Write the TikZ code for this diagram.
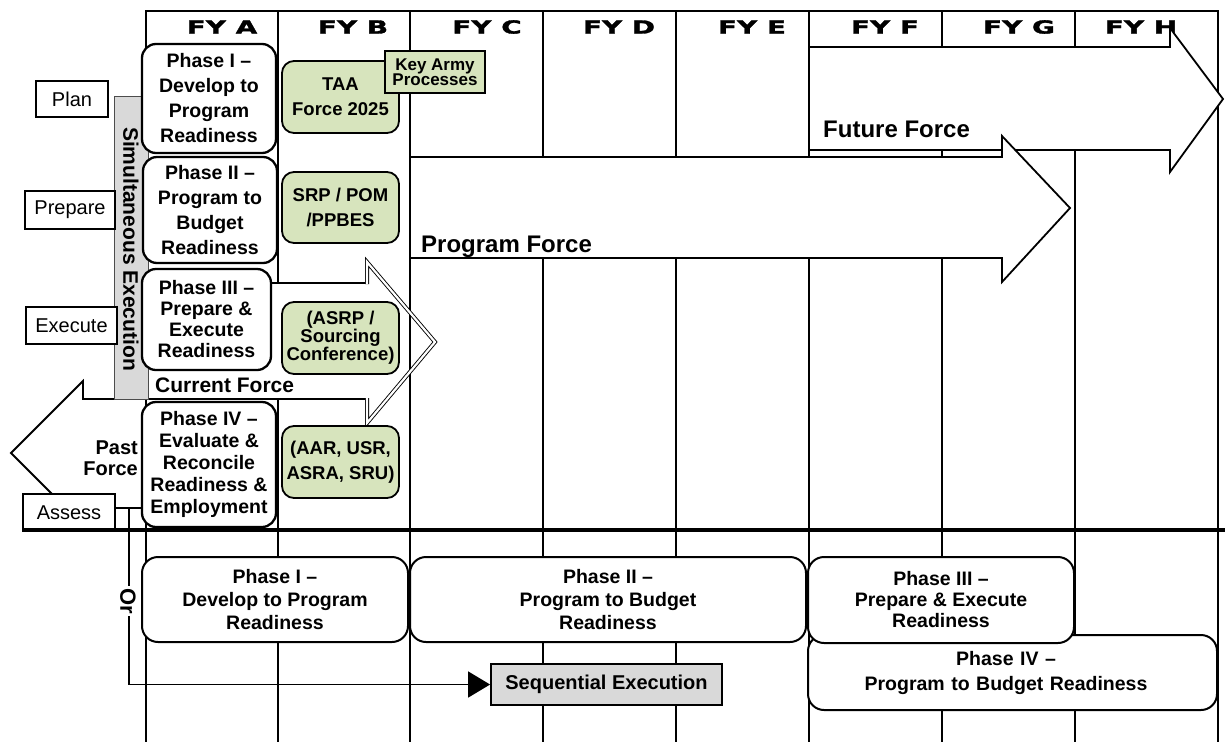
\documentclass[tikz,border=0pt]{standalone}
\usepackage{fontspec}
\setmainfont{Liberation Sans}
\newfontfamily\fyfont[FakeStretch=1.55,FakeBold=1.8]{DejaVu Sans Bold}
\usetikzlibrary{arrows.meta}
\definecolor{procgreen}{HTML}{D7E4BD}
\definecolor{bargray}{HTML}{D9D9D9}
\begin{document}
\begin{tikzpicture}[x=1pt,y=-1pt,
  gridline/.style={line width=1.6pt},
  fyhead/.style={font=\fyfont\fontsize{18}{18}\selectfont, inner sep=0},
  phasetop/.style={draw, line width=2.3pt, rounded corners=14pt, fill=white, align=center, inner sep=0},
  procbox/.style={draw, line width=1.8pt, rounded corners=12pt, fill=procgreen, align=center, inner sep=0, minimum width=117pt},
  stagebox/.style={draw, line width=1.8pt, fill=white, inner sep=0, font=\fontsize{20}{20}\selectfont},
  phasebot/.style={draw, line width=2pt, rounded corners=16pt, fill=white, align=center, inner sep=0},
  forcearrow/.style={draw, line width=1.8pt, fill=white, line join=miter},
  forcelabel/.style={font=\bfseries\fontsize{24}{24}\selectfont, inner sep=0, anchor=base west},
]
\useasboundingbox (0,0) rectangle (1225,742);
\fill[white] (0,0) rectangle (1225,742);

% grid
\foreach \x in {146,278,410,543,676,809,942,1075,1218}
  \draw[gridline] (\x,11) -- (\x,742);
\draw[gridline] (145,11) -- (1219,11);

% headers
\node[fyhead] (fya) at (222,27) {FY A};
\node[fyhead] (fyb) at (353,27) {FY B};
\node[fyhead] (fyc) at (487,27) {FY C};
\node[fyhead] (fyd) at (619,27) {FY D};
\node[fyhead] (fye) at (752,27) {FY E};
\node[fyhead] (fyf) at (885,27) {FY F};
\node[fyhead] (fyg) at (1019,27) {FY G};
\node[fyhead] (fyh) at (1141,27) {FY H};

% Future Force
\draw[forcearrow] (809,47) -- (1170,47) -- (1170,28) -- (1223,99) -- (1170,172) -- (1170,150) -- (809,150) -- cycle;
\node[forcelabel] (futlbl) at (823,137) {Future Force};

% Program Force
\draw[forcearrow] (410,157) -- (1002,157) -- (1002,136) -- (1070,208) -- (1002,282) -- (1002,258) -- (410,258) -- cycle;
\node[forcelabel] (proglbl) at (421,252) {Program Force};

% Current Force
\fill[white] (148,283) -- (367,283) -- (367,262) -- (435,342) -- (367,423) -- (367,399) -- (148,399) -- cycle;
\draw[gridline] (410,255) -- (410,430);
\draw[line width=1.8pt] (148,283) -- (367,283);
\draw[line width=1.8pt] (367,399) -- (148,399);
\draw[line width=0.9pt, double, double distance=2.2pt, line join=miter] (367,284) -- (367,262) -- (435,342) -- (367,423) -- (367,398);
\node[font=\bfseries\fontsize{21}{21}\selectfont, inner sep=0, anchor=base west] (curlbl) at (155,392) {Current Force};

% Past Force
\draw[forcearrow] (142,399) -- (83,399) -- (83,381) -- (11,453) -- (83,525) -- (83,508) -- (142,508);
\node[font=\bfseries\fontsize{20}{21}\selectfont, align=right, inner sep=0, anchor=east] (pastlbl) at (138,458) {Past\\Force};

% Simultaneous execution bar
\node[draw=black!70, line width=1pt, fill=bargray, minimum width=34pt, minimum height=303pt, inner sep=0] (simbar) at (131,247.5) {};
\node[rotate=-90, font=\bfseries\fontsize{21}{21}\selectfont, inner sep=0] (simtext) at (131,249) {Simultaneous Execution};

% top phase boxes
\node[phasetop, minimum width=134pt, minimum height=109pt, font=\bfseries\fontsize{19.5}{25}\selectfont] (p1t) at (209,98.5) {Phase I –\\Develop to\\Program\\Readiness};
\node[phasetop, minimum width=134pt, minimum height=106pt, font=\bfseries\fontsize{19.5}{25}\selectfont] (p2t) at (210,210) {Phase II –\\Program to\\Budget\\Readiness};
\node[phasetop, minimum width=129pt, minimum height=101pt, font=\bfseries\fontsize{19.5}{21}\selectfont] (p3t) at (206.5,319.5) {Phase III –\\Prepare \&\\Execute\\Readiness};
\node[phasetop, minimum width=134pt, minimum height=125pt, font=\bfseries\fontsize{19.5}{22}\selectfont] (p4t) at (209,464.5) {Phase IV –\\Evaluate \&\\Reconcile\\Readiness \&\\Employment};

% green process boxes
\node[procbox, minimum height=72pt, font=\bfseries\fontsize{18.5}{25}\selectfont] (taa) at (340.5,97) {TAA\\Force 2025};
\node[procbox, minimum height=71pt, font=\bfseries\fontsize{18.5}{25}\selectfont] (srp) at (340.5,207.5) {SRP / POM\\/PPBES};
\node[procbox, minimum height=72pt, font=\bfseries\fontsize{18.5}{18}\selectfont] (asrp) at (340.5,338) {(ASRP /\\Sourcing\\Conference)};
\node[procbox, minimum height=72pt, font=\bfseries\fontsize{18.5}{25}\selectfont] (aar) at (340.5,462) {(AAR, USR,\\ASRA, SRU)};
\node[draw, line width=1.8pt, fill=procgreen, minimum width=100pt, minimum height=42pt, inner sep=0, align=center, font=\bfseries\fontsize{17}{15.5}\selectfont] (keyproc) at (435,72) {Key Army\\Processes};

% stage labels
\node[stagebox, minimum width=72pt, minimum height=36pt] (plan) at (72,99) {Plan};
\node[stagebox, minimum width=90pt, minimum height=38pt] (prep) at (70,210) {Prepare};
\node[stagebox, minimum width=91pt, minimum height=37pt] (exec) at (71.5,325.5) {Execute};
\node[stagebox, minimum width=92pt, minimum height=37pt] (assess) at (69,512.5) {Assess};

% divider
\draw[line width=4pt] (23,530) -- (1225,530);

% bottom phases
\node[phasebot, minimum width=266pt, minimum height=85pt, font=\bfseries\fontsize{19.5}{23}\selectfont] (p1b) at (275,599.5) {Phase I –\\Develop to Program\\Readiness};
\node[phasebot, minimum width=396pt, minimum height=85pt, font=\bfseries\fontsize{19.5}{23}\selectfont] (p2b) at (608,599.5) {Phase II –\\Program to Budget\\Readiness};
\node[phasebot, minimum width=409pt, minimum height=75pt, font=\bfseries\fontsize{19.5}{25}\selectfont, text width=395pt] (p4b) at (1012.5,672.5) {\centering\hspace*{-13pt}Phase IV –\\\hspace*{-13pt}Program to Budget Readiness\par};
\node[phasebot, minimum width=266pt, minimum height=86pt, font=\bfseries\fontsize{19.5}{21}\selectfont] (p3b) at (941,600) {Phase III –\\Prepare \& Execute\\Readiness};

% sequential execution
\node[draw, line width=1.8pt, fill=bargray, minimum width=231pt, minimum height=41pt, inner sep=0, font=\bfseries\fontsize{20}{20}\selectfont] (seqexec) at (606.5,684.5) {Sequential Execution};
\coordinate (orjoin) at (129,508);
\draw[line width=1.6pt, -{Triangle[length=22pt,width=26pt]}] (orjoin) -- (orjoin |- seqexec.west) -- (seqexec.west);
\node[rotate=-90, fill=white, inner sep=2pt, font=\bfseries\fontsize{22}{22}\selectfont] (ortext) at (128,601) {Or};
\end{tikzpicture}
\end{document}
